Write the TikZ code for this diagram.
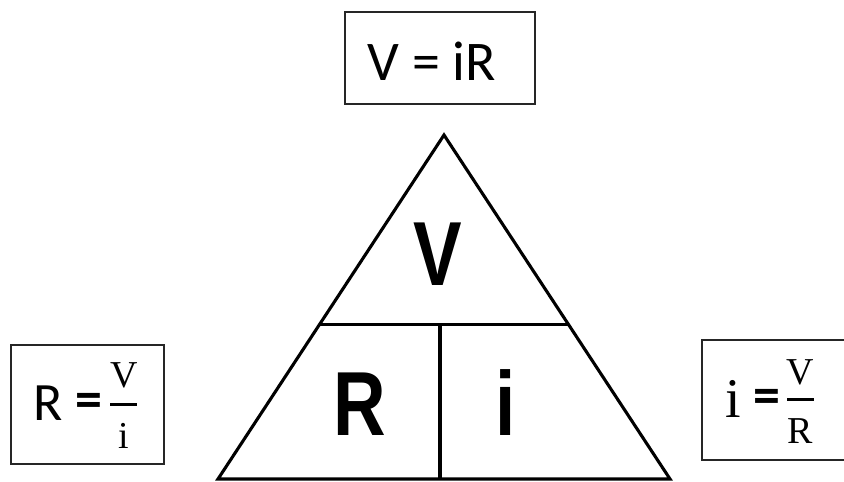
\documentclass[tikz,border=0pt]{standalone}
\usepackage{fontspec}
\usetikzlibrary{calc}
\setmainfont{Liberation Serif}
\newfontfamily\carl{Carlito}
\newfontfamily\arialf{Liberation Sans}
\newcommand{\narrowl}[1]{\scalebox{0.8}[1]{#1}}
\begin{document}
\begin{tikzpicture}[x=1pt,y=-1pt,
  boxst/.style={draw=black!85, line width=2pt, inner sep=0pt},
  tri/.style={draw=black, line width=3.1pt, line join=miter},
  bigletter/.style={font=\arialf\bfseries\fontsize{91}{91}\selectfont, inner sep=0pt, anchor=base},
  sanstxt/.style={font=\carl\fontsize{56}{56}\selectfont, inner sep=0pt, anchor=base},
  fractxt/.style={font=\fontsize{38}{38}\selectfont, inner sep=0pt, anchor=base},
  barst/.style={line width=3pt}]
\useasboundingbox (0,0) rectangle (844,482);
\fill[white] (0,0) rectangle (844,482);
% top box
\node[boxst, minimum width=190pt, minimum height=92pt] (topbox) at (439.5,58) {};
\node[sanstxt] (topeq) at (432,80) {V = iR};
% triangle
\coordinate (apex) at (444,135);
\coordinate (bl) at (218,479);
\coordinate (br) at (670,479);
\coordinate (ml) at ($(apex)!0.552!(bl)$);
\coordinate (mr) at ($(apex)!0.552!(br)$);
\coordinate (mt) at (440,325);
\coordinate (mb) at (440,479);
\draw[tri] (apex) -- (bl) -- (br) -- cycle;
\draw[tri] (ml) -- (mr);
\draw[tri] (mt) -- (mb);
\node[bigletter] (lv) at (437.5,285) {\narrowl{V}};
\node[bigletter] (lr) at (360,435) {\narrowl{R}};
\node[bigletter] (li) at (505.5,435) {\narrowl{i}};
% left box
\node[boxst, minimum width=153pt, minimum height=119pt] (leftbox) at (87.5,404.5) {};
\node[sanstxt, font=\carl\fontsize{54}{54}\selectfont] (lR) at (48,420) {R};
\node[inner sep=0pt, font=\carl\bfseries\fontsize{54}{54}\selectfont] (leq) at (89,405) {=};
\coordinate (lb1) at (110,404);
\coordinate (lb2) at (137,404);
\draw[barst] (lb1) -- (lb2);
\node[fractxt] (lnum) at (124,387) {V};
\node[fractxt] (lden) at (124,448) {i};
% right box
\node[boxst, minimum width=146pt, minimum height=120pt] (rightbox) at (775,400) {};
\node[inner sep=0pt, anchor=base, font=\fontsize{56}{56}\selectfont] (ri) at (733,417) {i};
\node[inner sep=0pt, font=\carl\bfseries\fontsize{54}{54}\selectfont] (req) at (767,401) {=};
\coordinate (rb1) at (787,399);
\coordinate (rb2) at (814,399);
\draw[barst] (rb1) -- (rb2);
\node[fractxt] (rnum) at (800.5,384) {V};
\node[fractxt] (rden) at (800.5,443) {R};
\end{tikzpicture}
\end{document}
